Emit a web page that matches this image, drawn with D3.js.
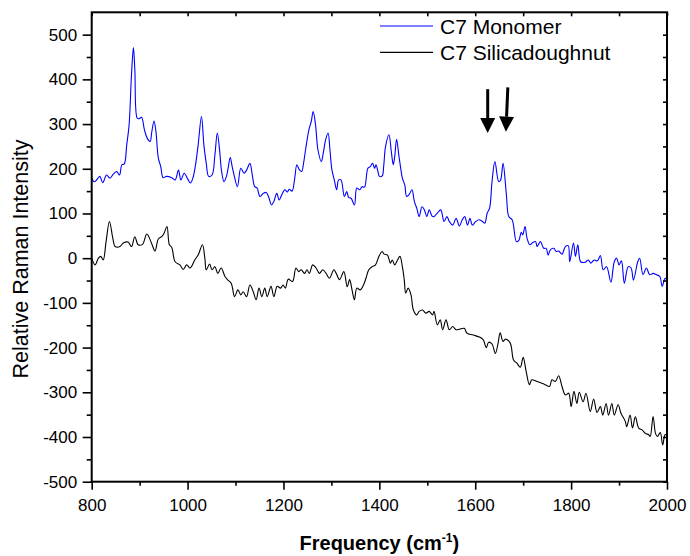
<!DOCTYPE html>
<html><head><meta charset="utf-8">
<script src="https://cdn.jsdelivr.net/npm/d3@7"></script>
<style>body{margin:0;background:#fff}svg{display:block}text{font-family:"Liberation Sans",Arial,sans-serif;}</style>
</head><body><svg id="c" width="690" height="556"></svg>
<script>
const monomerFreq = [800,805,811,817,823,831,838,845,852,858,863,868,873,878,883,887,890,895,899,904,910,916,922,925,930,934,939,944,949,956,967,974,981,986,993,1000,1006,1011,1016,1022,1029,1034,1039,1044,1051,1057,1062,1067,1071,1076,1081,1084,1089,1093,1097,1104,1111,1118,1123,1130,1135,1140,1145,1151,1158,1164,1170,1175,1180,1186,1191,1196,1203,1208,1212,1218,1223,1228,1233,1238,1242,1246,1253,1258,1262,1267,1272,1279,1283,1288,1293,1297,1301,1306,1311,1315,1320,1327,1332,1336,1341,1348,1353,1359,1364,1369,1376,1381,1386,1390,1393,1397,1400,1406,1409,1413,1420,1425,1429,1432,1436,1441,1445,1448,1453,1457,1462,1468,1473,1478,1483,1489,1494,1499,1504,1510,1514,1521,1528,1535,1541,1546,1553,1560,1567,1573,1578,1584,1589,1594,1601,1608,1615,1620,1625,1630,1635,1641,1649,1653,1658,1665,1670,1677,1686,1691,1696,1699,1704,1708,1714,1720,1726,1729,1736,1743,1748,1752,1757,1764,1769,1774,1781,1788,1794,1797,1805,1809,1814,1820,1829,1836,1841,1848,1855,1861,1867,1874,1883,1890,1895,1900,1905,1911,1919,1925,1930,1939,1943,1950,1957,1964,1971,1978,1985,1990,1996,2000];
const monomerIntensity = [180,171,176,183,169,186,179,188,194,186,209,211,253,298,410,471,421,313,312,315,287,268,261,280,307,283,224,205,180,183,180,175,197,175,190,178,168,179,205,253,317,253,212,183,186,231,280,239,194,171,183,198,225,205,186,160,201,190,197,212,186,160,157,138,145,147,134,119,127,145,130,141,153,148,154,150,175,209,198,194,213,242,287,306,328,297,242,216,235,265,280,242,198,175,153,175,175,138,149,136,134,119,157,153,160,159,201,205,212,201,209,194,183,184,205,250,276,238,209,227,266,227,198,179,164,138,142,153,127,112,93,115,108,93,108,94,93,101,108,82,93,82,74,89,72,86,93,74,89,74,82,86,82,78,101,112,171,216,171,175,212,142,93,86,37,40,58,52,71,45,30,35,37,26,37,22,22,7,19,22,15,16,9,26,28,-8,34,4,30,-8,-9,-4,-11,-4,-6,6,-26,-19,-54,-8,0,-15,-6,-56,-19,-22,-49,-8,0,-37,-22,-37,-34,-37,-41,-63,-45,-49];
const silicaFreq = [800,807,814,819,824,830,837,844,849,859,866,876,883,890,897,906,915,925,932,939,946,951,957,962,967,974,984,991,998,1005,1008,1015,1022,1031,1036,1039,1046,1051,1057,1063,1070,1078,1084,1091,1098,1105,1111,1116,1123,1130,1137,1143,1149,1155,1161,1166,1174,1180,1187,1194,1199,1204,1210,1219,1226,1232,1237,1244,1249,1254,1261,1268,1275,1282,1289,1296,1305,1310,1317,1326,1333,1338,1343,1348,1353,1360,1367,1372,1378,1385,1392,1399,1406,1410,1417,1423,1427,1432,1438,1443,1448,1452,1455,1460,1466,1471,1478,1483,1490,1497,1504,1511,1514,1521,1527,1532,1539,1546,1553,1560,1567,1577,1583,1596,1610,1617,1623,1628,1635,1642,1647,1652,1658,1663,1673,1680,1687,1694,1700,1706,1713,1718,1729,1739,1746,1755,1760,1767,1774,1781,1788,1795,1800,1806,1812,1817,1825,1831,1840,1847,1854,1861,1866,1873,1878,1885,1890,1898,1904,1913,1916,1923,1928,1934,1941,1948,1955,1962,1965,1971,1976,1980,1986,1991,1996,2000];
const silicaIntensity = [0,-15,0,4,-4,37,82,45,26,26,34,36,26,48,30,31,54,33,16,43,48,56,71,30,24,-8,-15,-25,-15,-22,-19,-4,7,30,0,-26,-13,-26,-19,-34,-22,-41,-49,-56,-86,-71,-82,-75,-86,-60,-75,-93,-67,-86,-67,-86,-63,-86,-63,-67,-60,-67,-47,-52,-22,-30,-26,-34,-26,-34,-15,-22,-34,-26,-34,-45,-26,-34,-48,-30,-64,-48,-71,-93,-67,-71,-60,-45,-26,-19,-15,4,15,9,7,-11,-4,-15,-4,4,-19,-49,-78,-67,-82,-116,-127,-119,-116,-123,-119,-127,-119,-149,-138,-160,-138,-160,-153,-160,-159,-157,-168,-172,-177,-183,-200,-188,-192,-213,-194,-167,-186,-181,-190,-228,-235,-244,-222,-252,-283,-272,-276,-280,-283,-287,-272,-276,-263,-287,-306,-302,-332,-298,-325,-300,-321,-302,-343,-315,-345,-332,-351,-325,-351,-325,-351,-328,-347,-365,-377,-351,-380,-355,-380,-384,-392,-395,-399,-354,-392,-399,-390,-418,-395,-395];
const seriesNames = ["C7 Monomer","C7 Silicadoughnut"];
const seriesColors = ["#0000ff","#000000"];
const xTicks = [800,1000,1200,1400,1600,1800,2000];
const xMinor = [900,1100,1300,1500,1700,1900];
const yTicks = [-500,-400,-300,-200,-100,0,100,200,300,400,500];
const yMinor = [-450,-350,-250,-150,-50,50,150,250,350,450];
const arrowFrom = [[1626,378],[1668,382]];
const arrowTo = [[1626,280],[1664,283]];

const svg = d3.select("#c");
const L=91.7, R=667, T=12.3, B=481.7;
const x = d3.scaleLinear().domain([800,2000]).range([L,R]);
const y = d3.scaleLinear().domain([-500,550]).range([B,T]);

const line = d3.line().x(d=>x(d[0])).y(d=>y(d[1])).curve(d3.curveCatmullRom.alpha(0.5));
const mono = monomerFreq.map((f,i)=>[f,monomerIntensity[i]]);
const sil = silicaFreq.map((f,i)=>[f,silicaIntensity[i]]);
svg.append("path").attr("d",line(sil)).attr("fill","none").attr("stroke",seriesColors[1]).attr("stroke-width",1.1);
svg.append("path").attr("d",line(mono)).attr("fill","none").attr("stroke",seriesColors[0]).attr("stroke-width",1.1);

const fs = 17;
const fmt = d=>String(d);
const gx = svg.append("g").attr("transform",`translate(0,${B})`)
  .call(d3.axisBottom(x).tickValues(xTicks).tickSize(8).tickPadding(9).tickSizeOuter(0).tickFormat(fmt));
const gxm = svg.append("g").attr("transform",`translate(0,${B})`)
  .call(d3.axisBottom(x).tickValues(xMinor).tickSize(4).tickFormat("").tickSizeOuter(0));
const gy = svg.append("g").attr("transform",`translate(${L},0)`)
  .call(d3.axisLeft(y).tickValues(yTicks).tickSize(9).tickPadding(5.5).tickSizeOuter(0).tickFormat(fmt));
const gym = svg.append("g").attr("transform",`translate(${L},0)`)
  .call(d3.axisLeft(y).tickValues(yMinor).tickSize(5).tickFormat("").tickSizeOuter(0));
const gt = svg.append("g").attr("transform",`translate(0,${T})`)
  .call(d3.axisBottom(x).tickValues(xTicks.concat(xMinor)).tickSize(4).tickFormat("").tickSizeOuter(0));
const gr = svg.append("g").attr("transform",`translate(${R},0)`)
  .call(d3.axisLeft(y).tickValues(yTicks.concat(yMinor)).tickSize(4).tickFormat("").tickSizeOuter(0));
[gx,gxm,gy,gym,gt,gr].forEach(g=>{
  g.selectAll(".domain").remove();
  g.selectAll("line").attr("stroke","#000").attr("stroke-width",1.6);
  g.selectAll("text").attr("font-size",fs).attr("fill","#000").style("font-family",'"Liberation Sans",Arial,sans-serif');
});
svg.append("rect").attr("x",L).attr("y",T).attr("width",R-L).attr("height",B-T)
  .attr("fill","none").attr("stroke","#000").attr("stroke-width",2);

const xt = svg.append("text").attr("x",(L+R)/2).attr("y",550).attr("text-anchor","middle")
  .attr("font-size",20).attr("font-weight","bold");
xt.append("tspan").text("Frequency (cm");
xt.append("tspan").attr("dy",-8).attr("font-size",12).text("-1");
xt.append("tspan").attr("dy",8).text(")");
svg.append("text").attr("transform",`translate(28.3,${(T+B)/2+12}) rotate(-90)`).attr("text-anchor","middle")
  .attr("font-size",21.5).text("Relative Raman Intensity");

const lg = svg.append("g");
seriesNames.forEach((n,i)=>{
  const yy = 26 + i*26.3;
  lg.append("line").attr("x1",380).attr("x2",433).attr("y1",yy).attr("y2",yy).attr("stroke",seriesColors[i]).attr("stroke-width",1.2);
  lg.append("text").attr("x",440).attr("y",yy+7.5).attr("font-size",21).text(n);
});

arrowFrom.forEach((a,i)=>{
  const b = arrowTo[i];
  const x1=x(a[0]), y1=y(a[1]), x2=x(b[0]), y2=y(b[1]);
  const ang = Math.atan2(y2-y1,x2-x1);
  const hl=15, hw=7.5;
  const bx = x2 - hl*Math.cos(ang), by = y2 - hl*Math.sin(ang);
  svg.append("line").attr("x1",x1).attr("y1",y1).attr("x2",bx).attr("y2",by).attr("stroke","#000").attr("stroke-width",3);
  const px=-Math.sin(ang), py=Math.cos(ang);
  svg.append("path").attr("d",`M${x2},${y2}L${bx+px*hw},${by+py*hw}L${bx-px*hw},${by-py*hw}Z`).attr("fill","#000");
});
</script></body></html>
